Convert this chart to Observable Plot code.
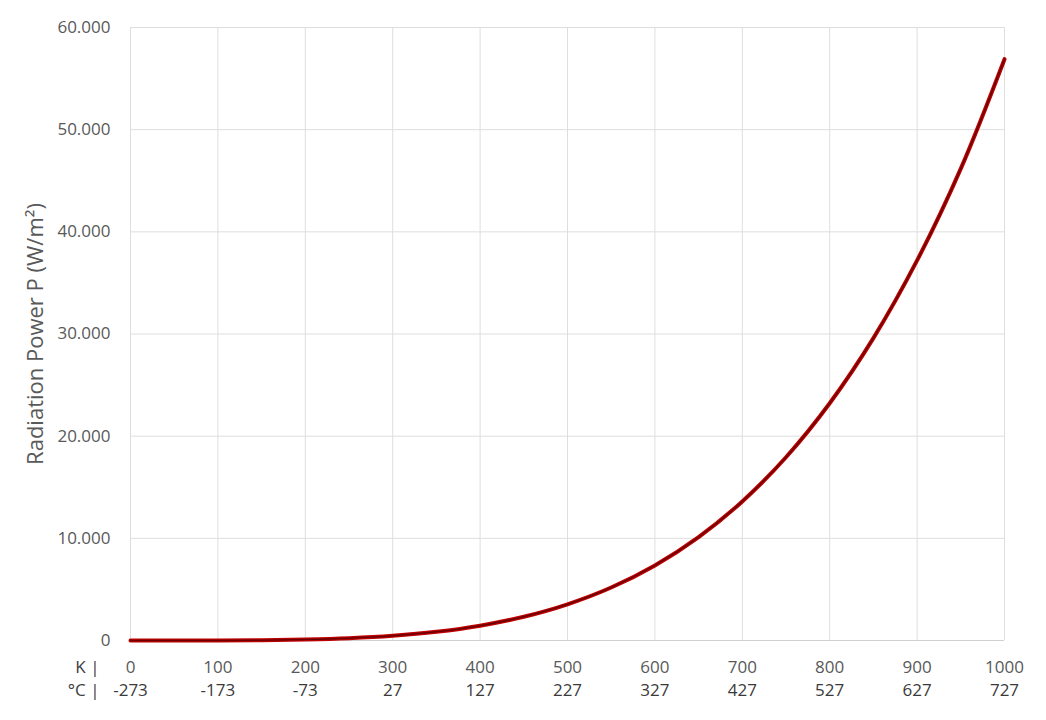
<!DOCTYPE html>
<html>
<head>
<meta charset="utf-8">
<script src="https://cdn.jsdelivr.net/npm/d3@7"></script>
<script src="https://cdn.jsdelivr.net/npm/@observablehq/plot@0.6"></script>
<style>
  html, body { margin: 0; padding: 0; background: #fff; }
  #chart svg { display: block; }
</style>
</head>
<body>
<div id="chart"></div>
<script>
// Temperature in Kelvin (sample points)
const kelvin = [0, 50, 100, 150, 200, 250, 300, 350, 400, 450, 500, 550, 600, 650, 700, 750, 800, 850, 900, 950, 1000];
// Radiation power P in W/m²
const power = [0, 0.4, 6, 29, 91, 221, 459, 851, 1452, 2325, 3544, 5188, 7348, 10121, 13613, 17940, 23224, 29596, 37200, 46190, 56900];

// Tick labels
const kTicks = [0, 100, 200, 300, 400, 500, 600, 700, 800, 900, 1000];
const cLabels = ["-273", "-173", "-73", "27", "127", "227", "327", "427", "527", "627", "727"];
const yTicks = [0, 10000, 20000, 30000, 40000, 50000, 60000];
const yTitle = "Radiation Power P (W/m²)";
const rowLabels = ["K |", "°C |"];

const data = kelvin.map((k, i) => ({k, p: power[i]}));
const de = d3.formatLocale({decimal: ",", thousands: ".", grouping: [3], currency: ["", " €"]});
const fmt = de.format(",");

const font = "'Open Sans', 'Noto Sans', sans-serif";

const chart = Plot.plot({
  width: 1046,
  height: 720,
  marginLeft: 130,
  marginRight: 42,
  marginTop: 27,
  marginBottom: 80,
  style: {fontFamily: font, fontSize: "16px", color: "#595959", background: "#fff"},
  x: {domain: [0, 1000]},
  y: {domain: [0, 60000]},
  marks: [
    Plot.gridX(kTicks, {stroke: "#dedede", strokeOpacity: 1, strokeWidth: 1}),
    Plot.gridY(yTicks, {stroke: "#dedede", strokeOpacity: 1, strokeWidth: 1}),
    Plot.ruleY([0], {stroke: "#d0d0d0", strokeWidth: 1.2}),
    Plot.axisY(yTicks, {tickSize: 0, tickPadding: 20, tickFormat: fmt, label: null, fill: "#595959", fontSize: 17}),
    Plot.axisX(kTicks, {tickSize: 0, tickPadding: 20, label: null, tickFormat: d => String(d), fill: "#595959", fontSize: 17}),
    Plot.axisX(kTicks, {tickSize: 0, tickPadding: 43, label: null, tickFormat: (d, i) => cLabels[i], fill: "#3a3a3a", fontSize: 17}),
    Plot.text([rowLabels[0]], {x: 0, y: 0, text: d => d, dx: -31, dy: 27, textAnchor: "end", fill: "#404040", fontSize: 17}),
    Plot.text([rowLabels[1]], {x: 0, y: 0, text: d => d, dx: -31, dy: 50, textAnchor: "end", fill: "#404040", fontSize: 17}),
    Plot.text([yTitle], {frameAnchor: "left", textAnchor: "middle", text: d => d, rotate: -90, dx: -95, fill: "#595959", fontSize: 22}),
    Plot.line(data, {x: "k", y: "p", curve: "catmull-rom", stroke: "#c00000", strokeWidth: 4}),
    Plot.line(data, {x: "k", y: "p", curve: "catmull-rom", stroke: "#6b0000", strokeWidth: 1.6})
  ]
});
document.getElementById("chart").append(chart);
</script>
</body>
</html>
